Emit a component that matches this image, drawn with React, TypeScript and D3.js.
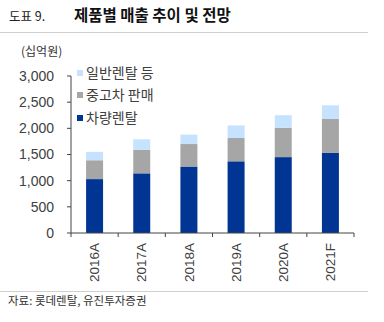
import React from "react";
import * as d3 from "d3";

const categories = ["2016A", "2017A", "2018A", "2019A", "2020A", "2021F"];
const seriesNames = ["차량렌탈", "중고차 판매", "일반렌탈 등"];
const rental = [1030, 1140, 1270, 1370, 1450, 1530];
const usedCar = [360, 450, 430, 445, 560, 655];
const general = [160, 200, 180, 240, 240, 255];
const yTicks = [0, 500, 1000, 1500, 2000, 2500, 3000];
const colors = ["#003594", "#a6a6a6", "#c5e2ff"];

const W = 384;
const H = 322;
const left = 71;
const right = 354;
const top = 76;
const bottom = 233;

export default function App() {
  const x = d3.scaleBand<string>().domain(categories).range([left, right]).paddingInner(0.64).paddingOuter(0.32);
  const y = d3.scaleLinear().domain([0, 3000]).range([bottom, top]);
  const table = categories.map((c, i) => ({ cat: c, a: rental[i], b: usedCar[i], c: general[i] }));
  const stack = d3.stack<any>().keys(["a", "b", "c"])(table);
  const step = (right - left) / categories.length;
  const tickXs = d3.range(categories.length + 1).map((i) => left + i * step);
  const numFont = "'Liberation Sans', Arial, sans-serif";
  const krFont = "'Noto Sans CJK KR', sans-serif";
  const legendYs = [118, 95, 73];
  return (
    <svg width={W} height={H} style={{ position: "absolute", left: 0, top: 0 }}>
      <rect width={W} height={H} fill="#fff" />
      <text x={9} y={21} fontFamily={krFont} fontSize={12.5} fill="#222">도표 9.</text>
      <text x={74} y={21} fontFamily={krFont} fontSize={15.5} fontWeight="bold" fill="#111">제품별 매출 추이 및 전망</text>
      <line x1={0} x2={368} y1={32.5} y2={32.5} stroke="#cfcfcf" strokeWidth={1} />
      <text x={21} y={56} fontFamily={krFont} fontSize={12} fill="#333">(십억원)</text>
      {stack.map((s, si) =>
        s.map((d, i) => (
          <rect
            key={si + "-" + i}
            x={x(categories[i])}
            width={x.bandwidth()}
            y={y(d[1])}
            height={y(d[0]) - y(d[1])}
            fill={colors[si]}
          />
        ))
      )}
      <line x1={left} x2={left} y1={top} y2={bottom} stroke="#444" />
      {yTicks.map((t) => (
        <g key={t}>
          <line x1={left - 4} x2={left} y1={y(t)} y2={y(t)} stroke="#444" />
          <text x={54} y={y(t)} dy="0.35em" textAnchor="end" fontFamily={numFont} fontSize={14} fill="#404040">
            {d3.format(",")(t)}
          </text>
        </g>
      ))}
      <line x1={left} x2={right} y1={bottom} y2={bottom} stroke="#444" />
      {tickXs.map((tx, i) => (
        <line key={i} x1={tx} x2={tx} y1={bottom} y2={bottom + 4} stroke="#444" />
      ))}
      {categories.map((c) => {
        const cx = (x(c) as number) + x.bandwidth() / 2;
        return (
          <text
            key={c}
            transform={`translate(${cx},243) rotate(-90)`}
            textAnchor="end"
            dy="0.35em"
            fontFamily={numFont}
            fontSize={13.5}
            fill="#404040"
          >
            {c}
          </text>
        );
      })}
      {seriesNames.map((n, i) => (
        <g key={n}>
          <rect x={77} y={legendYs[i] - 3} width={6} height={6} fill={colors[i]} />
          <text x={86} y={legendYs[i]} dy="0.35em" fontFamily={krFont} fontSize={14} fill="#404040">{n}</text>
        </g>
      ))}
      <line x1={0} x2={368} y1={291.5} y2={291.5} stroke="#cfcfcf" strokeWidth={1} />
      <text x={8} y={305} fontFamily={krFont} fontSize={11.5} fill="#333">자료: 롯데렌탈, 유진투자증권</text>
    </svg>
  );
}
